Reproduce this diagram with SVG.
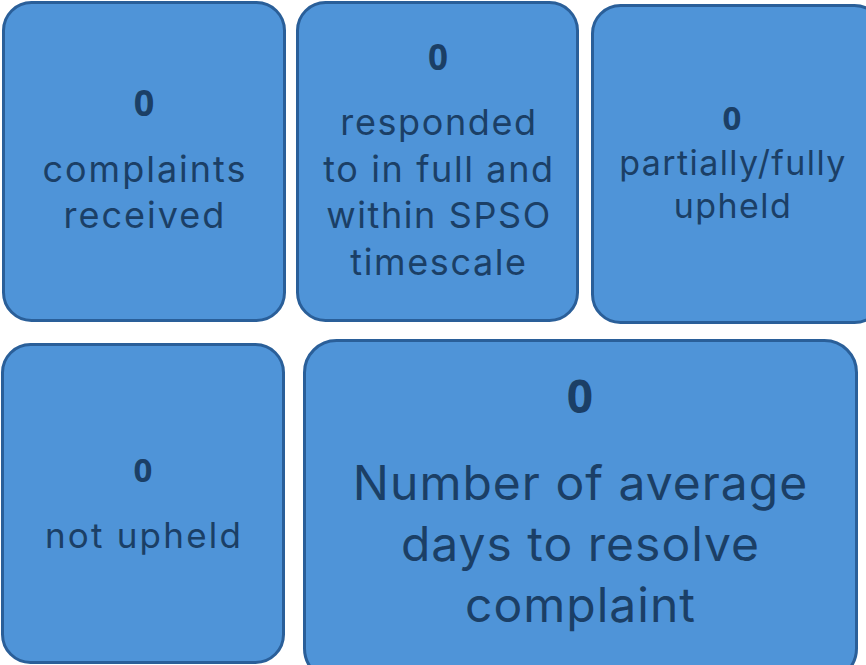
<svg xmlns="http://www.w3.org/2000/svg" width="866" height="665" viewBox="0 0 866 665">
<style>
.box{fill:#4F94D8;stroke:#2A5F99;stroke-width:3}
.t{font-family:Inter,"Noto Sans","Liberation Sans",sans-serif;fill:#1B3F66;text-anchor:middle}
.n{font-family:"Noto Sans","Liberation Sans",sans-serif;font-weight:bold}
.s{letter-spacing:2px}
</style>
<rect width="866" height="665" fill="#ffffff"/>
<g id="node-received">
<rect class="box" x="3.5" y="2.5" width="281" height="318" rx="28"/>
<text class="t n" x="144" y="116" font-size="36">0</text>
<text class="t s" x="145" y="182" font-size="36">complaints</text>
<text class="t s" x="145" y="228" font-size="36">received</text>
</g>
<g id="node-responded">
<rect class="box" x="297.5" y="2.5" width="280" height="318" rx="28"/>
<text class="t n" x="438" y="70" font-size="35">0</text>
<text class="t" x="439" y="135" font-size="36" letter-spacing="1.6">responded</text>
<text class="t" x="439" y="182" font-size="36" letter-spacing="1.6">to in full and</text>
<text class="t" x="439" y="228" font-size="36" letter-spacing="1.6">within SPSO</text>
<text class="t" x="439" y="275" font-size="36" letter-spacing="1.6">timescale</text>
</g>
<g id="node-upheld">
<rect class="box" x="592.5" y="5.5" width="290" height="317" rx="28"/>
<text class="t n" x="732" y="130" font-size="33">0</text>
<text class="t" x="733" y="175" font-size="34" letter-spacing="1.4">partially/fully</text>
<text class="t" x="733" y="218" font-size="34" letter-spacing="1.4">upheld</text>
</g>
<g id="node-not-upheld">
<rect class="box" x="2.5" y="344.5" width="281" height="318" rx="28"/>
<text class="t n" x="143" y="482" font-size="33">0</text>
<text class="t" x="144" y="548" font-size="35" letter-spacing="2.2">not upheld</text>
</g>
<g id="node-days">
<rect class="box" x="304.5" y="340.5" width="552" height="340" rx="32"/>
<text class="t n" x="580" y="413" font-size="46">0</text>
<text class="t" x="580.5" y="500" font-size="48" letter-spacing="1">Number of average</text>
<text class="t" x="580.5" y="561" font-size="48" letter-spacing="1">days to resolve</text>
<text class="t" x="580.5" y="622" font-size="48" letter-spacing="1">complaint</text>
</g>
<g id="connectors"></g>
</svg>
